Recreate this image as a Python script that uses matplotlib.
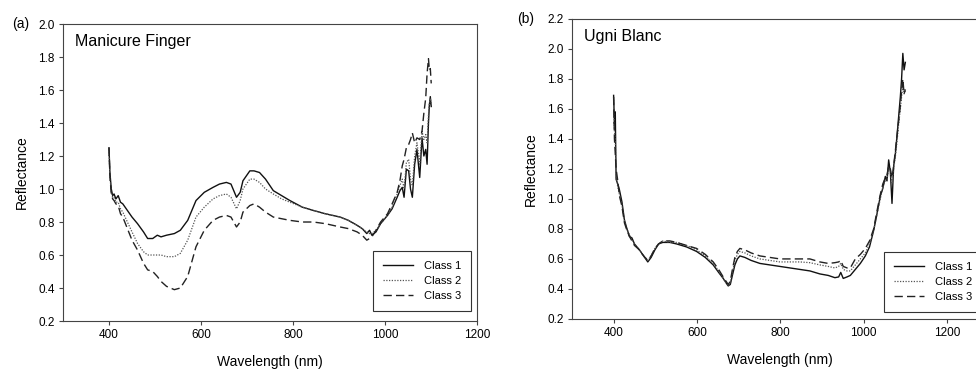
import matplotlib
matplotlib.use("Agg")
import matplotlib.pyplot as plt

plt.rcParams['font.family'] = ['Liberation Sans', 'DejaVu Sans']

# panel (a) Manicure Finger
wl_a = [400, 402, 405, 408, 411, 415, 420, 425, 430, 440, 450, 462, 475, 484, 495, 505, 513, 525, 542, 555,
        571, 589, 607, 626, 640, 655, 665, 677, 685, 691, 706, 715, 727, 740, 757, 775, 793, 820, 844, 870,
        902, 920, 939, 950, 960, 966, 971, 980, 990, 1005, 1015, 1026, 1032, 1037, 1041, 1046, 1051, 1055, 1059, 1064,
        1069, 1075, 1080, 1084, 1088, 1091, 1094, 1096, 1098, 1100]
a_class1 = [1.25, 1.10, 1.00, 0.96, 0.97, 0.94, 0.96, 0.92, 0.91, 0.87, 0.83, 0.79, 0.74, 0.70, 0.70, 0.72, 0.71, 0.72, 0.73, 0.75,
            0.81, 0.93, 0.98, 1.01, 1.03, 1.04, 1.03, 0.95, 0.98, 1.05, 1.11, 1.11, 1.10, 1.06, 0.99, 0.96, 0.93, 0.89, 0.87, 0.85,
            0.83, 0.81, 0.78, 0.76, 0.73, 0.75, 0.72, 0.74, 0.79, 0.84, 0.88, 0.95, 0.99, 1.01, 0.95, 1.12, 1.11, 1.00, 0.95, 1.15,
            1.24, 1.07, 1.31, 1.20, 1.24, 1.15, 1.40, 1.51, 1.56, 1.50]
a_class2 = [1.24, 1.08, 0.98, 0.95, 0.95, 0.92, 0.92, 0.88, 0.86, 0.80, 0.74, 0.67, 0.62, 0.60, 0.60, 0.60, 0.60, 0.59, 0.59, 0.61,
            0.69, 0.83, 0.89, 0.94, 0.96, 0.97, 0.95, 0.88, 0.93, 1.00, 1.06, 1.06, 1.04, 1.00, 0.97, 0.94, 0.92, 0.89, 0.87, 0.85,
            0.83, 0.81, 0.78, 0.76, 0.74, 0.73, 0.73, 0.75, 0.79, 0.84, 0.89, 0.97, 1.02, 1.06, 1.00, 1.16, 1.18, 1.06, 1.02, 1.20,
            1.28, 1.15, 1.35, 1.30, 1.33, 1.28, 1.45, 1.52, 1.55, 1.52]
a_class3 = [1.25, 1.08, 0.97, 0.94, 0.93, 0.91, 0.90, 0.85, 0.83, 0.76, 0.69, 0.63, 0.55, 0.51, 0.50, 0.47, 0.44, 0.41, 0.39, 0.40,
            0.47, 0.65, 0.75, 0.81, 0.83, 0.84, 0.83, 0.77, 0.80, 0.86, 0.90, 0.91, 0.89, 0.86, 0.83, 0.82, 0.81, 0.80, 0.80, 0.79,
            0.77, 0.76, 0.74, 0.72, 0.69, 0.70, 0.71, 0.75, 0.80, 0.85, 0.91, 0.98, 1.05, 1.14, 1.18, 1.25, 1.27, 1.30, 1.34, 1.28,
            1.31, 1.30, 1.35, 1.46, 1.55, 1.70, 1.79, 1.72, 1.73, 1.64]

# panel (b) Ugni Blanc
wl_b = [400, 402, 404, 406, 410, 414, 420, 426, 432, 438, 444, 450, 462, 472, 482, 490, 499, 508, 518, 535,
        551, 575, 599, 620, 639, 652, 663, 670, 675, 680, 685, 691, 697, 703, 715, 730, 751, 775, 799, 823,
        847, 871, 895, 915, 931, 940, 945, 951, 960, 968, 980, 992, 1004, 1014, 1024, 1032, 1040, 1046, 1052, 1056,
        1060, 1064, 1068, 1072, 1076, 1080, 1084, 1088, 1091, 1094, 1097, 1100]
b_class1 = [1.69, 1.50, 1.58, 1.13, 1.10, 1.06, 0.98, 0.86, 0.80, 0.75, 0.74, 0.70, 0.66, 0.62, 0.58, 0.61, 0.66, 0.70, 0.71, 0.71,
            0.70, 0.68, 0.65, 0.61, 0.56, 0.51, 0.47, 0.44, 0.42, 0.43, 0.49, 0.56, 0.60, 0.62, 0.61, 0.59, 0.57, 0.56, 0.55, 0.54,
            0.53, 0.52, 0.50, 0.49, 0.475, 0.48, 0.51, 0.47, 0.48, 0.49, 0.53, 0.57, 0.62, 0.68, 0.79, 0.90, 1.02, 1.07, 1.15, 1.12,
            1.26, 1.18, 0.97, 1.22, 1.30, 1.42, 1.55, 1.68, 1.80, 1.97, 1.86, 1.91]
b_class2 = [1.66, 1.45, 1.40, 1.15, 1.08, 1.03, 0.96, 0.85, 0.80, 0.76, 0.73, 0.70, 0.66, 0.62, 0.59, 0.62, 0.67, 0.70, 0.72, 0.71,
            0.71, 0.69, 0.66, 0.62, 0.57, 0.52, 0.47, 0.44, 0.42, 0.44, 0.51, 0.59, 0.63, 0.65, 0.64, 0.62, 0.60, 0.59, 0.58, 0.58,
            0.58, 0.575, 0.56, 0.55, 0.54, 0.55, 0.57, 0.53, 0.52, 0.52, 0.56, 0.60, 0.64, 0.70, 0.79, 0.90, 1.00, 1.08, 1.12, 1.13,
            1.20, 1.19, 1.10, 1.20, 1.28, 1.38, 1.50, 1.60, 1.68, 1.75, 1.70, 1.72]
b_class3 = [1.68, 1.40, 1.30, 1.20, 1.12, 1.02, 0.95, 0.84, 0.79, 0.75, 0.72, 0.69, 0.66, 0.62, 0.59, 0.62, 0.67, 0.70, 0.72, 0.72,
            0.71, 0.69, 0.67, 0.63, 0.58, 0.53, 0.48, 0.45, 0.43, 0.45, 0.53, 0.61, 0.65, 0.67, 0.66, 0.64, 0.62, 0.61, 0.60, 0.60,
            0.60, 0.60, 0.58, 0.57, 0.575, 0.58, 0.59, 0.55, 0.54, 0.54, 0.60, 0.63, 0.67, 0.72, 0.80, 0.92, 1.03, 1.10, 1.14, 1.16,
            1.22, 1.20, 1.14, 1.22, 1.32, 1.42, 1.52, 1.62, 1.72, 1.80, 1.70, 1.73]

labels = ["Class 1", "Class 2", "Class 3"]
styles = [dict(color="#111111", lw=1.0, linestyle="-"),
          dict(color="#555555", lw=0.9, linestyle=(0, (1, 1.2))),
          dict(color="#222222", lw=1.0, linestyle=(0, (6, 3)))]

fig = plt.figure(figsize=(9.76, 3.7), dpi=100)


def panel(rect, wl, series, ymax, xmax, name, leg_xy):
    ax = fig.add_axes(rect)
    for y, lab, st in zip(series, labels, styles):
        ax.plot(wl, y, label=lab, **st)
    ax.set_xlim(300, xmax)
    ax.set_ylim(0.2, ymax)
    ax.set_xticks([400, 600, 800, 1000, 1200])
    yt = [round(0.2 + 0.2 * i, 1) for i in range(int(round((ymax - 0.2) / 0.2)) + 1)]
    ax.set_yticks(yt)
    ax.set_yticklabels(["%.1f" % v for v in yt])
    ax.tick_params(direction="out", length=3, width=0.8, labelsize=8.5, color="#444444", pad=3)
    for s in ax.spines.values():
        s.set_color("#444444")
        s.set_linewidth(0.8)
    ax.set_xlabel("Wavelength (nm)", fontsize=10, labelpad=10)
    ax.set_ylabel("Reflectance", fontsize=10, labelpad=7)
    ax.text(0.03, 0.94, name, transform=ax.transAxes, fontsize=11.5, va="center", ha="left")
    leg = ax.legend(loc="upper left", bbox_to_anchor=leg_xy, bbox_transform=fig.transFigure,
                    fontsize=8, frameon=True, fancybox=False, framealpha=1, edgecolor="#333333",
                    handlelength=2.7, handletextpad=1.0, borderpad=0.9, labelspacing=0.45,
                    borderaxespad=0)
    leg.get_frame().set_linewidth(0.8)
    return ax


ax1 = panel([0.0645, 0.1324, 0.4245, 0.8027], wl_a, [a_class1, a_class2, a_class3], 2.0, 1200,
            "Manicure Finger", (0.382, 0.322))
ax2 = panel([0.586, 0.138, 0.427, 0.811], wl_b, [b_class1, b_class2, b_class3], 2.2, 1300,
            "Ugni Blanc", (0.906, 0.319))

fig.text(0.012, 1 - 24 / 370, "(a)", fontsize=10, va="center", ha="left")
fig.text(0.530, 1 - 19 / 370, "(b)", fontsize=10, va="center", ha="left")

fig.savefig("out.png", dpi=100)
